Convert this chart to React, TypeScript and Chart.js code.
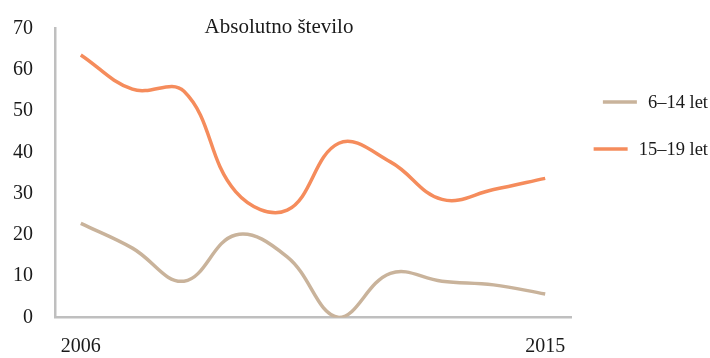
import React, { useEffect, useRef } from "react";
import { Chart, registerables } from "chart.js";

Chart.register(...registerables);

const years = ["2006", "2007", "2008", "2009", "2010", "2011", "2012", "2013", "2014", "2015"];
const age6to14 = [22.8, 16.8, 8.8, 20, 14.7, 0, 10.7, 8.8, 7.9, 5.7];
const age15to19 = [63.6, 55.3, 54.8, 30.5, 26, 42.2, 37.7, 28.6, 31, 33.7];
const seriesNames = ["6–14 let", "15–19 let"];
const seriesColors = ["#C9B39B", "#F58C5C"];
const chartTitle = "Absolutno število";

const FONT = "'Liberation Serif', 'Times New Roman', serif";

const overlayPlugin = {
  id: "overlay",
  afterDraw(chart: any) {
    const ctx = chart.ctx;
    ctx.save();
    ctx.fillStyle = "#1a1a1a";
    ctx.font = `21px ${FONT}`;
    ctx.textAlign = "center";
    ctx.textBaseline = "alphabetic";
    ctx.fillText(chartTitle, 279, 33);

    const legendY = [102, 149];
    chart.data.datasets.forEach((ds: any, i: number) => {
      const label = ds.label as string;
      ctx.font = `18.5px ${FONT}`;
      const w = ctx.measureText(label).width;
      const textRight = 708;
      const textLeft = textRight - w;
      ctx.strokeStyle = ds.borderColor;
      ctx.lineWidth = 3.5;
      ctx.beginPath();
      ctx.moveTo(textLeft - 45, legendY[i]);
      ctx.lineTo(textLeft - 11, legendY[i]);
      ctx.stroke();
      ctx.fillStyle = "#1a1a1a";
      ctx.textAlign = "left";
      ctx.textBaseline = "middle";
      ctx.fillText(label, textLeft, legendY[i] + 1);
    });
    ctx.restore();
  },
};

export default function App() {
  const ref = useRef<HTMLCanvasElement | null>(null);

  useEffect(() => {
    document.body.style.margin = "0";
    const canvas = ref.current;
    if (!canvas) return;
    const chart = new Chart(canvas, {
      type: "line",
      data: {
        labels: years,
        datasets: [
          {
            label: seriesNames[0],
            data: age6to14,
            borderColor: seriesColors[0],
            backgroundColor: seriesColors[0],
            borderWidth: 3.5,
            pointRadius: 0,
            tension: 0.4,
            fill: false,
          },
          {
            label: seriesNames[1],
            data: age15to19,
            borderColor: seriesColors[1],
            backgroundColor: seriesColors[1],
            borderWidth: 3.5,
            pointRadius: 0,
            tension: 0.4,
            fill: false,
          },
        ],
      },
      options: {
        animation: false,
        responsive: false,
        maintainAspectRatio: false,
        devicePixelRatio: 1,
        layout: { padding: { top: 28.5, right: 139, left: 0, bottom: 0 } },
        plugins: {
          legend: { display: false },
          title: { display: false },
          tooltip: { enabled: false },
        },
        scales: {
          x: {
            offset: true,
            grid: { display: false, drawTicks: false },
            border: { display: true, color: "#BFBFBF", width: 2.5 },
            ticks: {
              autoSkip: false,
              maxRotation: 0,
              padding: 17,
              color: "#1a1a1a",
              font: { family: FONT, size: 20 },
              callback: (_v: any, i: number) => (i === 0 || i === years.length - 1 ? years[i] : ""),
            },
            afterFit: (s: any) => {
              s.height = 40.5;
              s.paddingLeft = 0;
              s.paddingRight = 0;
            },
          },
          y: {
            min: 0,
            max: 70,
            grid: { display: false, drawTicks: false },
            border: { display: true, color: "#BFBFBF", width: 2.5 },
            ticks: {
              stepSize: 10,
              padding: 22,
              color: "#1a1a1a",
              font: { family: FONT, size: 20 },
            },
            afterFit: (s: any) => {
              s.width = 55;
              s.paddingTop = 0;
              s.paddingBottom = 0;
            },
          },
        },
      },
      plugins: [overlayPlugin],
    });
    return () => chart.destroy();
  }, []);

  return (
    <div style={{ width: 710, height: 358 }}>
      <canvas ref={ref} width={710} height={358} style={{ width: 710, height: 358, display: "block" }} />
    </div>
  );
}
